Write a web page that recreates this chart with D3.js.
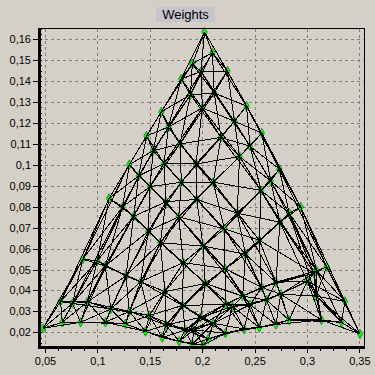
<!doctype html>
<html>
<head>
<meta charset="utf-8">
<script src="https://cdn.jsdelivr.net/npm/d3@7/dist/d3.min.js"></script>
<style>
  body { margin: 0; background: #d4d0c8; }
  svg { display: block; font-family: "Liberation Sans", Arial, sans-serif; }
</style>
</head>
<body>
<svg id="chart" width="375" height="375"></svg>
<script>
// SOM weights, 10 x 10 neurons: wx[i][j], wy[i][j]
var wx = [
  [0.2022, 0.2098, 0.2241, 0.2423, 0.2568, 0.2736, 0.2940, 0.3188, 0.3363, 0.3506],
  [0.1906, 0.1989, 0.2115, 0.2308, 0.2456, 0.2654, 0.2831, 0.3093, 0.3086, 0.3329],
  [0.1800, 0.1888, 0.2001, 0.2179, 0.2356, 0.2561, 0.2742, 0.3067, 0.3003, 0.3138],
  [0.1610, 0.1678, 0.1788, 0.1941, 0.2106, 0.2335, 0.2545, 0.2704, 0.2749, 0.2828],
  [0.1469, 0.1533, 0.1635, 0.1801, 0.1948, 0.2211, 0.2413, 0.2568, 0.2615, 0.2704],
  [0.1304, 0.1394, 0.1502, 0.1655, 0.1776, 0.2008, 0.2218, 0.2386, 0.2458, 0.2545],
  [0.1111, 0.1241, 0.1346, 0.1486, 0.1600, 0.1820, 0.2029, 0.2222, 0.2289, 0.2399],
  [0.0860, 0.0999, 0.1075, 0.1273, 0.1413, 0.1645, 0.1812, 0.1984, 0.2106, 0.2222],
  [0.0648, 0.0762, 0.0904, 0.1128, 0.1304, 0.1495, 0.1653, 0.1838, 0.1920, 0.2058],
  [0.0481, 0.0665, 0.0839, 0.1077, 0.1268, 0.1459, 0.1619, 0.1781, 0.1905, 0.2010]
];
var wy = [
  [0.1635, 0.1536, 0.1448, 0.1281, 0.1152, 0.0980, 0.0799, 0.0513, 0.0347, 0.0192],
  [0.1483, 0.1446, 0.1343, 0.1208, 0.1089, 0.0923, 0.0769, 0.0494, 0.0373, 0.0248],
  [0.1410, 0.1335, 0.1272, 0.1131, 0.1040, 0.0878, 0.0726, 0.0482, 0.0444, 0.0259],
  [0.1253, 0.1181, 0.1100, 0.1004, 0.0917, 0.0769, 0.0640, 0.0439, 0.0382, 0.0259],
  [0.1138, 0.1068, 0.1007, 0.0917, 0.0835, 0.0694, 0.0573, 0.0415, 0.0354, 0.0237],
  [0.1001, 0.0947, 0.0896, 0.0824, 0.0752, 0.0612, 0.0504, 0.0373, 0.0332, 0.0223],
  [0.0840, 0.0800, 0.0754, 0.0683, 0.0628, 0.0533, 0.0433, 0.0334, 0.0323, 0.0216],
  [0.0549, 0.0542, 0.0517, 0.0469, 0.0442, 0.0394, 0.0328, 0.0271, 0.0243, 0.0196],
  [0.0347, 0.0338, 0.0345, 0.0311, 0.0300, 0.0280, 0.0235, 0.0211, 0.0211, 0.0168],
  [0.0219, 0.0248, 0.0248, 0.0248, 0.0240, 0.0204, 0.0175, 0.0157, 0.0143, 0.0139]
];
var xTicks = [0.05, 0.1, 0.15, 0.2, 0.25, 0.3, 0.35];
var yTicks = [0.02, 0.03, 0.04, 0.05, 0.06, 0.07, 0.08, 0.09, 0.1, 0.11, 0.12, 0.13, 0.14, 0.15, 0.16];
var title = "Weights";

var svg = d3.select("#chart");
var pLeft = 39, pRight = 364, pTop = 28.5, pBottom = 348;

var x = d3.scaleLinear().domain([0.04427, 0.3544]).range([pLeft, pRight]);
var y = d3.scaleLinear().domain([0.0125, 0.16515]).range([pBottom, pTop]);
var fmt = function (d) { return String(d).replace(".", ","); };

// title
var tg = svg.append("g");
tg.append("rect").attr("x", 156).attr("y", 7).attr("width", 59).attr("height", 15).attr("fill", "#c6c5cc");
tg.append("text").attr("x", 185.5).attr("y", 19).attr("text-anchor", "middle")
  .style("font-size", "13px").attr("fill", "#000").text(title);

// grid
var grid = svg.append("g").attr("stroke", "#808080").attr("stroke-dasharray", "3,3").attr("shape-rendering", "crispEdges");
grid.selectAll(".gx").data(xTicks).enter().append("line")
  .attr("x1", function (d) { return Math.round(x(d)) + 0.5; })
  .attr("x2", function (d) { return Math.round(x(d)) + 0.5; })
  .attr("y1", pTop).attr("y2", pBottom);
grid.selectAll(".gy").data(yTicks).enter().append("line")
  .attr("y1", function (d) { return Math.round(y(d)) + 0.5; })
  .attr("y2", function (d) { return Math.round(y(d)) + 0.5; })
  .attr("x1", pLeft).attr("x2", pRight);

// axes
var yAxis = d3.axisLeft(y).tickValues(yTicks).tickFormat(fmt).tickSize(5).tickPadding(2);
var xAxis = d3.axisBottom(x).tickValues(xTicks).tickFormat(fmt).tickSize(5).tickPadding(4);
var ya = svg.append("g").attr("transform", "translate(" + (pLeft - 1) + ",0)").call(yAxis);
var xa = svg.append("g").attr("transform", "translate(0," + (pBottom) + ")").call(xAxis);
[ya, xa].forEach(function (a) {
  a.select(".domain").remove();
  a.selectAll("text").style("font-size", "11px").style("font-family", "Liberation Sans, Arial, sans-serif").attr("fill", "#000");
  a.selectAll("line").attr("stroke", "#000").attr("shape-rendering", "crispEdges");
});

// minor ticks
var xMinor = d3.range(0.05, 0.3501, 0.0125);
svg.append("g").selectAll("line").data(xMinor).enter().append("line")
  .attr("x1", function (d) { return Math.round(x(d)) + 0.5; })
  .attr("x2", function (d) { return Math.round(x(d)) + 0.5; })
  .attr("y1", pBottom).attr("y2", pBottom + 3)
  .attr("stroke", "#000").attr("shape-rendering", "crispEdges");
var yMinor = d3.range(0.015, 0.165, 0.0025);
svg.append("g").selectAll("line").data(yMinor).enter().append("line")
  .attr("y1", function (d) { return Math.round(y(d)) + 0.5; })
  .attr("y2", function (d) { return Math.round(y(d)) + 0.5; })
  .attr("x1", pLeft).attr("x2", pLeft + 3)
  .attr("stroke", "#000").attr("shape-rendering", "crispEdges");

// nodes and links
var nodes = [];
wx.forEach(function (row, i) {
  row.forEach(function (v, j) { nodes.push({ i: i, j: j, x: v, y: wy[i][j] }); });
});
var n = wx.length;
function node(i, j) { return nodes[i * n + j]; }
var links = [];
for (var i = 0; i < n; i++) {
  for (var j = 0; j < n; j++) {
    if (j + 1 < n) links.push([node(i, j), node(i, j + 1)]);
    if (i + 1 < n) links.push([node(i, j), node(i + 1, j)]);
    if (i + 1 < n && j + 1 < n) {
      links.push([node(i, j), node(i + 1, j + 1)]);
      links.push([node(i, j + 1), node(i + 1, j)]);
    }
    if (j + 2 < n) links.push([node(i, j), node(i, j + 2)]);
    if (i + 2 < n) links.push([node(i, j), node(i + 2, j)]);
  }
}

svg.append("g").selectAll("path").data(nodes).enter().append("path")
  .attr("d", d3.symbol().type(d3.symbolDiamond).size(26))
  .attr("transform", function (d) { return "translate(" + x(d.x) + "," + y(d.y) + ")"; })
  .attr("fill", "#00ff00").attr("stroke", "#006000").attr("stroke-width", 0.6);

svg.append("g").attr("stroke", "#000").attr("stroke-width", 1).attr("shape-rendering", "crispEdges")
  .selectAll("line").data(links).enter().append("line")
  .attr("x1", function (d) { return x(d[0].x); })
  .attr("y1", function (d) { return y(d[0].y); })
  .attr("x2", function (d) { return x(d[1].x); })
  .attr("y2", function (d) { return y(d[1].y); });

// frame
var fr = svg.append("g").attr("shape-rendering", "crispEdges");
fr.append("line").attr("x1", pLeft).attr("x2", pRight + 0.5).attr("y1", 28.5).attr("y2", 28.5).attr("stroke", "#000");
fr.append("line").attr("x1", pRight + 0.5).attr("x2", pRight + 0.5).attr("y1", 28).attr("y2", pBottom).attr("stroke", "#000");
fr.append("line").attr("x1", pLeft).attr("x2", pLeft).attr("y1", 28).attr("y2", pBottom + 1).attr("stroke", "#000").attr("stroke-width", 3);
fr.append("line").attr("x1", pLeft - 1.5).attr("x2", pRight + 1).attr("y1", pBottom - 0.5).attr("y2", pBottom - 0.5).attr("stroke", "#000").attr("stroke-width", 3);
fr.selectAll(".tt").data(xTicks).enter().append("line")
  .attr("x1", function (d) { return Math.round(x(d)) + 0.5; })
  .attr("x2", function (d) { return Math.round(x(d)) + 0.5; })
  .attr("y1", 28.5).attr("y2", 32).attr("stroke", "#808080");
</script>
</body>
</html>
